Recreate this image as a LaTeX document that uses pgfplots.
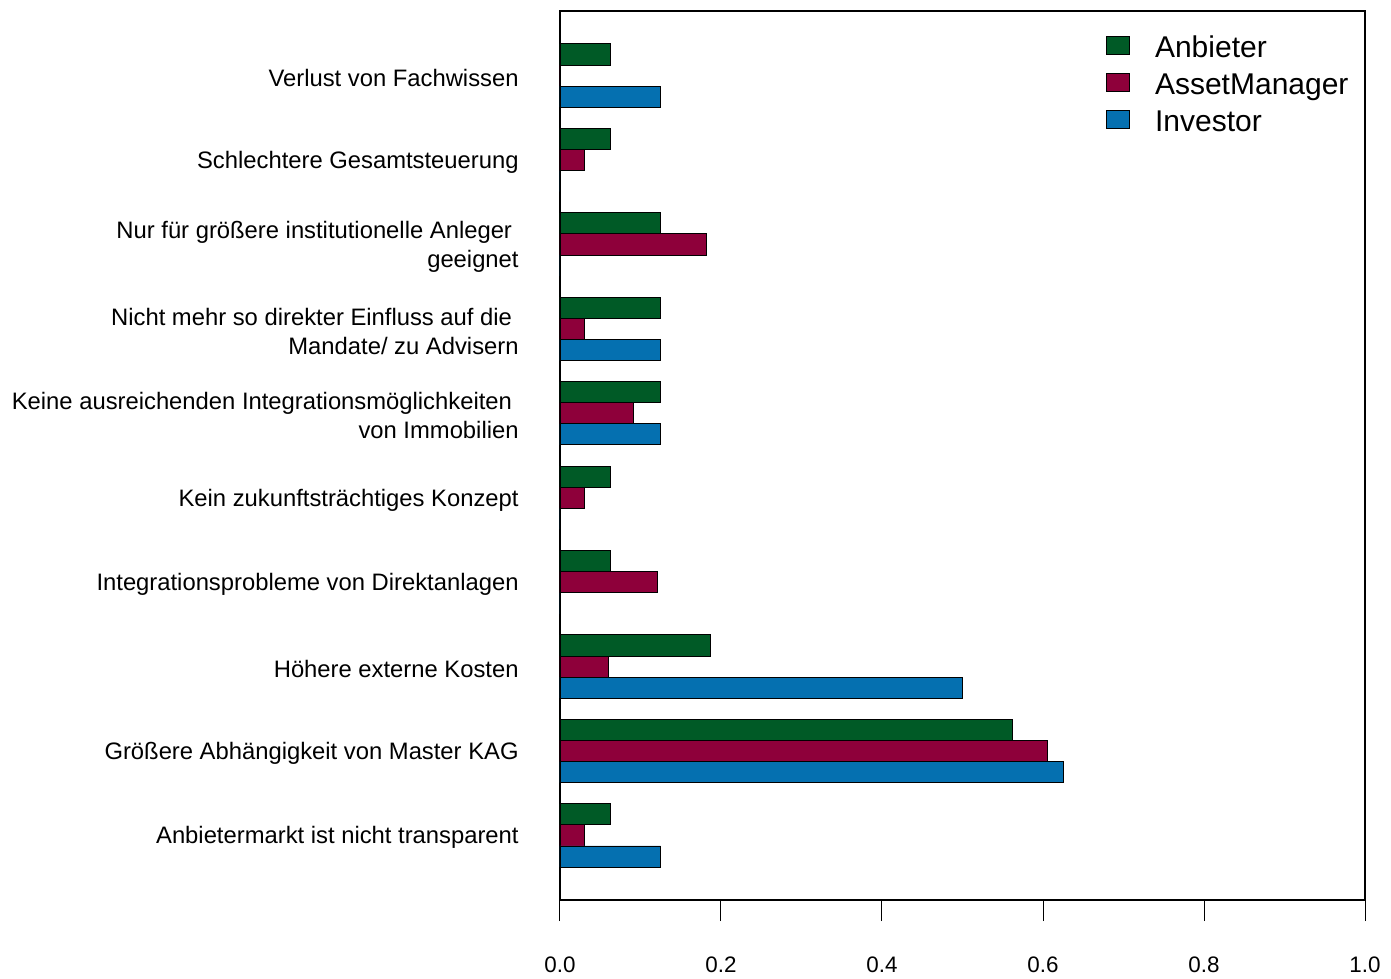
\documentclass[border=0pt]{standalone}
\usepackage{pgfplots}
\pgfplotsset{compat=1.18}
\usepackage{pgfplotstable}
\usepackage{fontspec}
\setmainfont{Liberation Sans}

\definecolor{anbieter}{RGB}{0,90,38}
\definecolor{assetm}{RGB}{142,0,58}
\definecolor{investor}{RGB}{5,112,176}

% shares per answer group; row 0 is the bottom category
\pgfplotstableread{
idx anb    am     inv
0   0.0625 0.0303 0.125
1   0.5625 0.6061 0.625
2   0.1875 0.0606 0.500
3   0.0625 0.1212 0
4   0.0625 0.0303 0
5   0.125  0.0909 0.125
6   0.125  0.0303 0.125
7   0.125  0.1818 0
8   0.0625 0.0303 0
9   0.0625 0      0.125
}\shares

\pgfplotsset{
  sqlegend/.style={legend image code/.code={%
    \draw[##1,draw=black,line width=0.45pt] (0pt,-0.5pt) rectangle (11.5pt,8.5pt);}},
}

\begin{document}
\begin{tikzpicture}
\begin{axis}[
  name=ax,
  scale only axis,
  width=402.5pt, height=444.5pt,
  xbar, bar width=0.25,
  xmin=0, xmax=1, ymin=-0.765, ymax=9.765,
  axis line style={line width=0.85pt},
  xtick={0,0.2,0.4,0.6,0.8,1},
  xticklabels={0.0,0.2,0.4,0.6,0.8,1.0},
  xtick pos=bottom, tick align=outside,
  major tick length=10.5pt,
  xtick style={line width=0.5pt,black},
  xticklabel style={font=\fontsize{11.2}{13}\selectfont, inner sep=0pt, anchor=north, yshift=-17.5pt},
  ytick={0,...,9},
  ytick style={draw=none},
  yticklabel style={font=\fontsize{11.9}{14.5}\selectfont, align=right, inner sep=0pt, anchor=east, xshift=-10pt, yshift=-1.2pt},
  yticklabels={
    Anbietermarkt ist nicht transparent,
    Größere Abhängigkeit von Master KAG,
    Höhere externe Kosten,
    Integrationsprobleme von Direktanlagen,
    Kein zukunftsträchtiges Konzept,
    {Keine ausreichenden Integrationsmöglichkeiten\kern3.3pt\\von Immobilien},
    {Nicht mehr so direkter Einfluss auf die\kern3.3pt\\Mandate/ zu Advisern},
    {Nur für größere institutionelle Anleger\kern3.3pt\\geeignet},
    Schlechtere Gesamtsteuerung,
    Verlust von Fachwissen},
  legend style={draw=none, fill=none, at={(0.6705,0.9775)}, anchor=north west,
    font=\fontsize{15}{18}\selectfont, column sep=12.5pt, row sep=0pt,
    nodes={inner sep=0pt, text height=11pt, text depth=7.5pt},
    cells={anchor=west}},
]
\addplot[fill=anbieter, draw=black, line width=0.45pt, bar shift=0.25, sqlegend]
  table[x=anb, y=idx] {\shares};
\addplot[fill=assetm, draw=black, line width=0.45pt, bar shift=0, sqlegend]
  table[x=am, y=idx] {\shares};
\addplot[fill=investor, draw=black, line width=0.45pt, bar shift=-0.25, sqlegend]
  table[x=inv, y=idx] {\shares};
\legend{Anbieter, AssetManager, Investor}
\end{axis}
\path ([shift={(-280pt,-39pt)}]ax.south west) rectangle ([shift={(13pt,5.5pt)}]ax.north east);
\end{tikzpicture}
\end{document}
